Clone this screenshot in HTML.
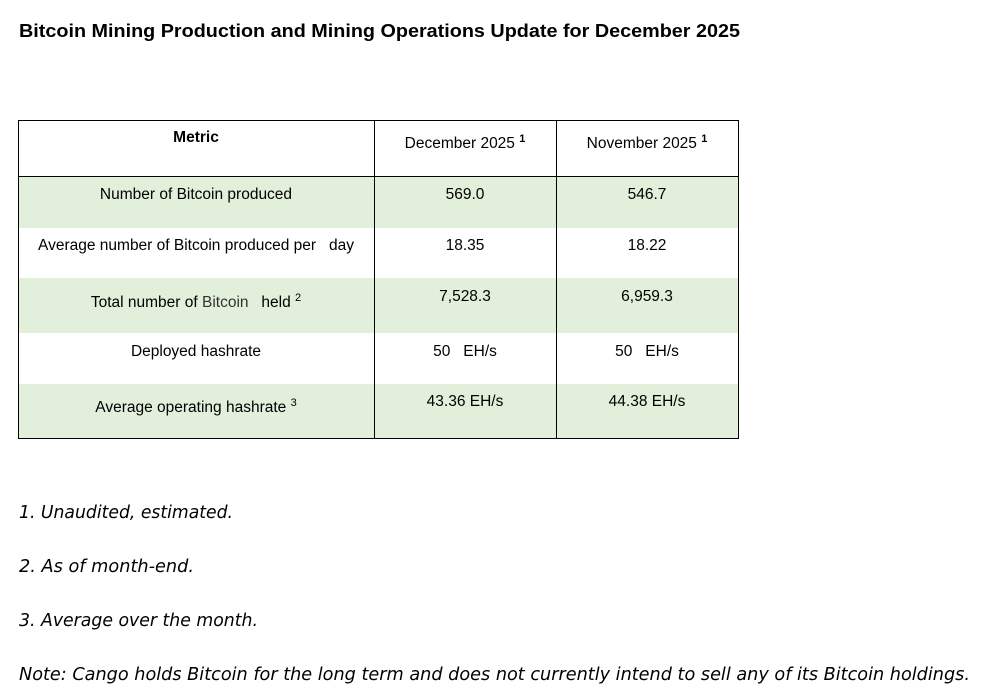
<!DOCTYPE html>
<html><head><meta charset="utf-8"><style>
body{margin:0;background:#fff;width:993px;height:696px;overflow:hidden;position:relative;font-family:"Liberation Sans",Arial,sans-serif}
.c{position:absolute;font-size:15.5px;color:#000;text-align:center;white-space:pre}
.b{position:absolute;background:#000}
.g{position:absolute;background:#e2efda}
sup{font-size:11px;vertical-align:6px}
</style></head><body>
<svg width="993" height="696" style="position:absolute;left:0;top:0">
<text x="19" y="37" font-family="Liberation Sans,sans-serif" font-weight="bold" font-size="18" textLength="721" lengthAdjust="spacingAndGlyphs">Bitcoin Mining Production and Mining Operations Update for December 2025</text>
<g font-family="DejaVu Sans,sans-serif" font-style="italic" font-size="18">
<text x="19" y="518" textLength="214" lengthAdjust="spacingAndGlyphs">1. Unaudited, estimated.</text>
<text x="19" y="572" textLength="175" lengthAdjust="spacingAndGlyphs">2. As of month-end.</text>
<text x="19" y="626" textLength="239" lengthAdjust="spacingAndGlyphs">3. Average over the month.</text>
<text x="19" y="680" textLength="951" lengthAdjust="spacingAndGlyphs">Note: Cango holds Bitcoin for the long term and does not currently intend to sell any of its Bitcoin holdings.</text>
</g>
</svg>
<div class="g" style="left:18px;top:176px;width:720px;height:52px"></div>
<div class="g" style="left:18px;top:278px;width:720px;height:55px"></div>
<div class="g" style="left:18px;top:384px;width:720px;height:55px"></div>
<div class="b" style="left:18px;top:120px;width:721px;height:1px"></div>
<div class="b" style="left:18px;top:176px;width:721px;height:1px"></div>
<div class="b" style="left:18px;top:438px;width:721px;height:1px"></div>
<div class="b" style="left:18px;top:120px;width:1px;height:319px"></div>
<div class="b" style="left:374px;top:120px;width:1px;height:319px"></div>
<div class="b" style="left:556px;top:120px;width:1px;height:319px"></div>
<div class="b" style="left:738px;top:120px;width:1px;height:319px"></div>

<div class="c" style="left:18px;width:356px;top:129px;font-weight:bold">Metric</div>
<div class="c" style="left:374px;width:182px;top:133px">December 2025 <sup style="font-weight:bold">1</sup></div>
<div class="c" style="left:556px;width:182px;top:133px">November 2025 <sup style="font-weight:bold">1</sup></div>

<div class="c" style="left:18px;width:356px;top:186px">Number of Bitcoin produced</div>
<div class="c" style="left:374px;width:182px;top:186px">569.0</div>
<div class="c" style="left:556px;width:182px;top:186px">546.7</div>

<div class="c" style="left:18px;width:356px;top:237px">Average number of Bitcoin produced per   day</div>
<div class="c" style="left:374px;width:182px;top:237px">18.35</div>
<div class="c" style="left:556px;width:182px;top:237px">18.22</div>

<div class="c" style="left:18px;width:356px;top:292px">Total number of <span style="color:#333">Bitcoin</span>   held <sup>2</sup></div>
<div class="c" style="left:374px;width:182px;top:288px">7,528.3</div>
<div class="c" style="left:556px;width:182px;top:288px">6,959.3</div>

<div class="c" style="left:18px;width:356px;top:343px">Deployed hashrate</div>
<div class="c" style="left:374px;width:182px;top:343px">50   EH/s</div>
<div class="c" style="left:556px;width:182px;top:343px">50   EH/s</div>

<div class="c" style="left:18px;width:356px;top:397px">Average operating hashrate <sup>3</sup></div>
<div class="c" style="left:374px;width:182px;top:393px">43.36 EH/s</div>
<div class="c" style="left:556px;width:182px;top:393px">44.38 EH/s</div>
</body></html>
